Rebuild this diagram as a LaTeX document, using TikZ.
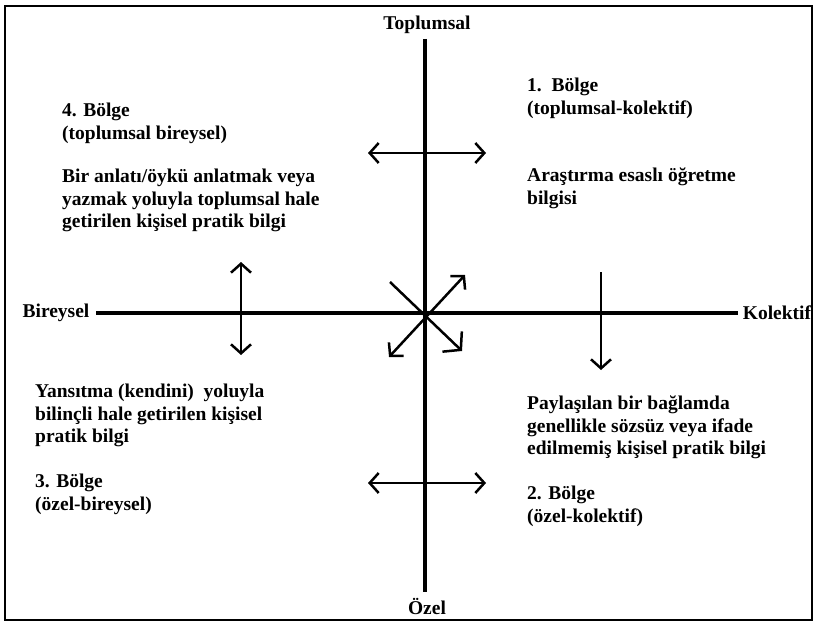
\documentclass[tikz,border=0pt]{standalone}
\usepackage{fontspec}
\setmainfont{Liberation Serif}
\usetikzlibrary{arrows.meta}
\begin{document}
\begin{tikzpicture}[x=1pt,y=-1pt,
  txt/.style={font=\bfseries\fontsize{19.5}{22.5}\selectfont, align=left, anchor=north west, inner sep=0pt},
  axlabel/.style={font=\bfseries\fontsize{19.5}{22}\selectfont, inner sep=0pt},
  axis/.style={line width=3.8pt},
  dbl/.style={line width=2.5pt, {Straight Barb[length=9pt,width=20pt]}-{Straight Barb[length=9pt,width=20pt]}},
  sgl/.style={line width=2.5pt, -{Straight Barb[length=9pt,width=20pt]}},
  wide/.style={line width=2.5pt, -{Straight Barb[length=12pt,width=28pt]}}]
\useasboundingbox (0,0) rectangle (817,623);
\draw[line width=1.8pt] (5,6) rectangle (812,620);
% axis labels
\node[axlabel] (top) at (427,25) {Toplumsal};
\node[axlabel] (bot) at (427,606) {Özel};
\node[axlabel] (lft) at (56,313) {Bireysel};
\node[axlabel] (rgt) at (777,313) {Kolektif};
% axes
\coordinate (vt) at (425,39);
\coordinate (vb) at (425,592);
\coordinate (hl) at (96,313);
\coordinate (hr) at (738,313);
\draw[axis] (vt) -- (vb);
\draw[axis] (hl) -- (hr);
% arrows
\coordinate (ta1) at (368,153); \coordinate (ta2) at (486,153);
\coordinate (ba1) at (368,483); \coordinate (ba2) at (486,483);
\coordinate (la1) at (241,262); \coordinate (la2) at (241,355);
\coordinate (ra1) at (601,272); \coordinate (ra2) at (601,370);
\coordinate (d1a) at (390,282); \coordinate (d1b) at (462,351);
\coordinate (d2a) at (389,357); \coordinate (d2b) at (465,275);
\draw[dbl] (ta1) -- (ta2);
\draw[dbl] (ba1) -- (ba2);
\draw[dbl] (la1) -- (la2);
\draw[sgl] (ra1) -- (ra2);
\draw[wide] (d1a) -- (d1b);
\draw[dbl] (d2a) -- (d2b);
% texts
\node[txt] (q4h) at (62,103) {4. Bölge\\(toplumsal bireysel)};
\node[txt] (q4b) at (62,169) {Bir anlatı/öykü anlatmak veya\\yazmak yoluyla toplumsal hale\\getirilen kişisel pratik bilgi};
\node[txt] (q1h) at (527,78) {1.\ \ Bölge\\(toplumsal-kolektif)};
\node[txt] (q1b) at (527,168) {Araştırma esaslı öğretme\\bilgisi};
\node[txt] (q3b) at (35,384) {Yansıtma (kendini)\ \ yoluyla\\bilinçli hale getirilen kişisel\\pratik bilgi};
\node[txt] (q3h) at (35,474) {3. Bölge\\(özel-bireysel)};
\node[txt] (q2b) at (527,396) {Paylaşılan bir bağlamda\\genellikle sözsüz veya ifade\\edilmemiş kişisel pratik bilgi};
\node[txt] (q2h) at (527,486) {2. Bölge\\(özel-kolektif)};
\end{tikzpicture}
\end{document}
